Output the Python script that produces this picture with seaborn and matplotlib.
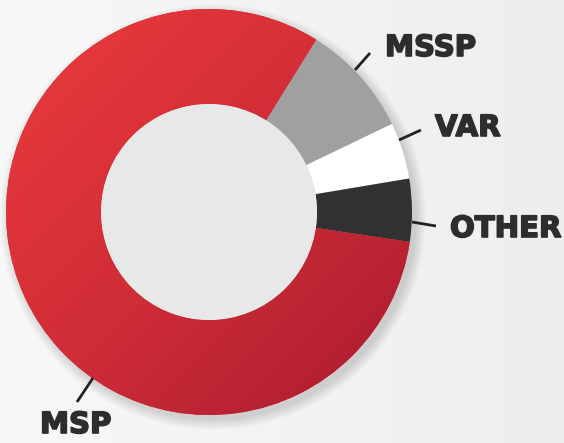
import numpy as np
import matplotlib.pyplot as plt
import matplotlib.patheffects as pe
import seaborn as sns
from matplotlib.patches import Circle
from matplotlib.colors import LinearSegmentedColormap

# data (share of respondents, %)
labels = ["MSP", "MSSP", "VAR", "OTHER"]
shares = [81.5, 9.0, 4.5, 5.0]
colors = ["#d22b35", "#a0a0a0", "#ffffff", "#323132"]

sns.set_theme(style="white")
plt.rcParams["font.family"] = ["DejaVu Sans"]

W, H = 564, 443
fig = plt.figure(figsize=(W / 100, H / 100), dpi=100)
ax = fig.add_axes([0, 0, 1, 1])
ax.set_xlim(0, W); ax.set_ylim(0, H); ax.set_aspect("equal"); ax.axis("off")

# soft background gradient
gx = np.linspace(0, 1, 200)
bg = np.outer(np.ones(200), gx)
ax.imshow(bg, extent=[0, W, 0, H], cmap=LinearSegmentedColormap.from_list("bg", ["#f8f8f8", "#eeeeee"]),
          zorder=0, aspect="auto")

cx, cy, R, r = 209, 231, 203, 108

# drop shadow
for k in range(12):
    ax.add_patch(Circle((cx + 4, cy - 5), R + k * 0.9, color="black", alpha=0.012, lw=0, zorder=1))

wedges, _ = ax.pie(shares, colors=colors, center=(cx, cy), radius=R, startangle=-8.5, counterclock=False,
                   wedgeprops=dict(width=R - r, linewidth=0), frame=True)
for w in wedges:
    w.set_zorder(3)
ax.set_xlim(0, W); ax.set_ylim(0, H); ax.axis("off")

# red gradient on the MSP slice
gy, gx2 = np.mgrid[0:1:300j, 0:1:300j]
grad = (gx2 + gy) / 2
im = ax.imshow(grad, extent=[cx - R, cx + R, cy - R, cy + R], origin="upper",
               cmap=LinearSegmentedColormap.from_list("red", ["#ec3b3c", "#d02d37", "#a91b2f"]), zorder=4)
im.set_clip_path(wedges[0])

ax.add_patch(Circle((cx, cy), r, color="#e8e8e8", lw=0, zorder=5))

# labels with leader lines (pixel positions)
ann = {
    "MSSP": ((355, 70), (370, 53), (385, 48)),
    "VAR": ((399, 140), (421, 130), (435, 128)),
    "OTHER": ((412, 222), (436, 226), (450, 229)),
    "MSP": ((93, 378), (77, 402), (40, 425)),
}
for lab, (p0, p1, pt) in ann.items():
    ax.plot([p0[0], p1[0]], [H - p0[1], H - p1[1]], color="#222222", lw=2, zorder=6, solid_capstyle="butt")
    t = ax.text(pt[0], H - pt[1], lab, ha="left", va="center", fontsize=21, fontweight="bold",
                color="#2d2d2d", zorder=7)
    t.set_path_effects([pe.Stroke(linewidth=1.2, foreground="#2d2d2d"), pe.Normal()])

fig.savefig("out.png", dpi=100)
